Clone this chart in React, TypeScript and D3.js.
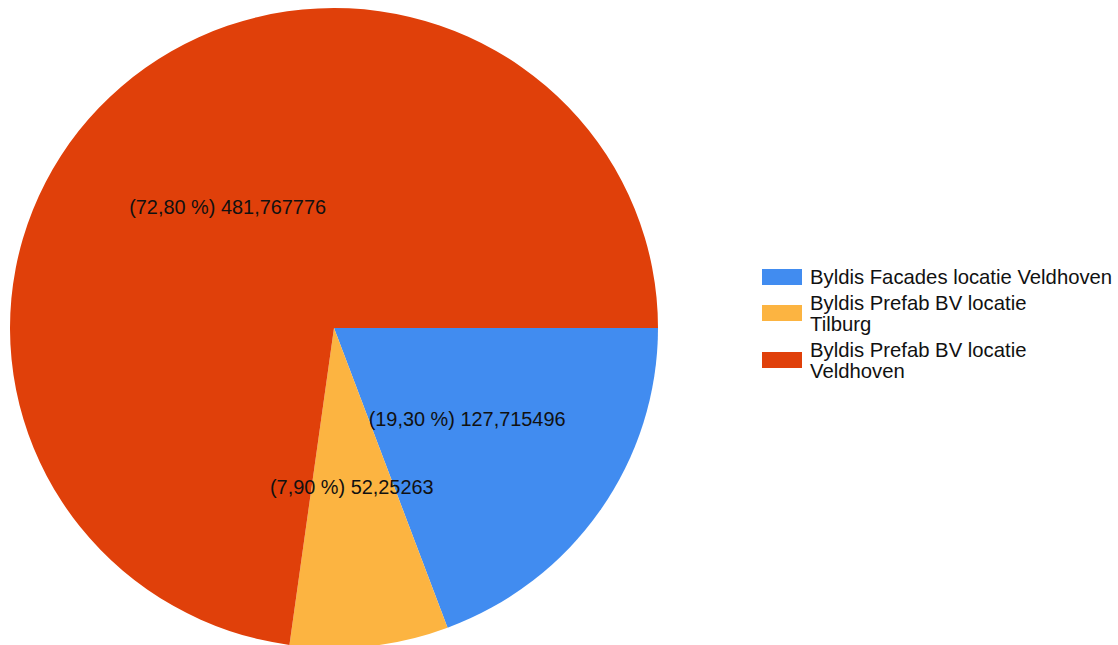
import React from "react";
import * as d3 from "d3";

// slice data, in drawing order (clockwise from 3 o'clock)
const categories = [
  "Byldis Facades locatie Veldhoven",
  "Byldis Prefab BV locatie Tilburg",
  "Byldis Prefab BV locatie Veldhoven",
];
const values = [127.715496, 52.25263, 481.767776];
const valueLabels = ["127,715496", "52,25263", "481,767776"];
const percentLabels = ["19,30", "7,90", "72,80"];
// legend text, wrapped as in the picture
const legendLines = [
  ["Byldis Facades locatie Veldhoven"],
  ["Byldis Prefab BV locatie", "Tilburg"],
  ["Byldis Prefab BV locatie", "Veldhoven"],
];
const colors = ["#418CF0", "#FCB441", "#E0400A"];

const W = 1118,
  H = 645;

export default function App() {
  const cx = 334,
    cy = 328,
    rx = 324,
    ry = 320;

  const pie = d3
    .pie<number>()
    .sort(null)
    .startAngle(Math.PI / 2)
    .endAngle(Math.PI / 2 + 2 * Math.PI);
  const arcs = pie(values);
  const arc = d3.arc<d3.PieArcDatum<number>>().innerRadius(0).outerRadius(rx);

  const color = d3.scaleOrdinal<string, string>().domain(categories).range(colors);

  // legend rows
  const legendY = d3
    .scaleOrdinal<string, number>()
    .domain(categories)
    .range([277, 313, 360]);
  const lineH = 21;

  return (
    <>
      <style>{`body{margin:0}`}</style>
      <svg width={W} height={H} style={{ display: "block" }} fontFamily="'Liberation Sans', Arial, sans-serif">
        <rect width={W} height={H} fill="#fff" />
        <g transform={`translate(${cx},${cy}) scale(1,${ry / rx})`}>
          {arcs.map((a, i) => (
            <path key={i} d={arc(a) || ""} fill={color(categories[i])} />
          ))}
        </g>
        {arcs.map((a, i) => {
          const [x, y] = arc.centroid(a);
          return (
            <text
              key={i}
              x={cx + x}
              y={cy + (y * ry) / rx}
              textAnchor="middle"
              dominantBaseline="central"
              fontSize={19.9}
              fill="#111"
            >
              {`(${percentLabels[i]} %) ${valueLabels[i]}`}
            </text>
          );
        })}
        <g>
          {categories.map((c, i) => {
            const yc = legendY(c);
            const lines = legendLines[i];
            const top = yc - ((lines.length - 1) * lineH) / 2;
            return (
              <g key={c}>
                <rect x={762} y={yc - 8} width={40} height={16} fill={color(c)} />
                {lines.map((l, j) => (
                  <text
                    key={j}
                    x={810}
                    y={top + j * lineH}
                    dominantBaseline="central"
                    fontSize={20.3}
                    fill="#111"
                  >
                    {l}
                  </text>
                ))}
              </g>
            );
          })}
        </g>
      </svg>
    </>
  );
}
